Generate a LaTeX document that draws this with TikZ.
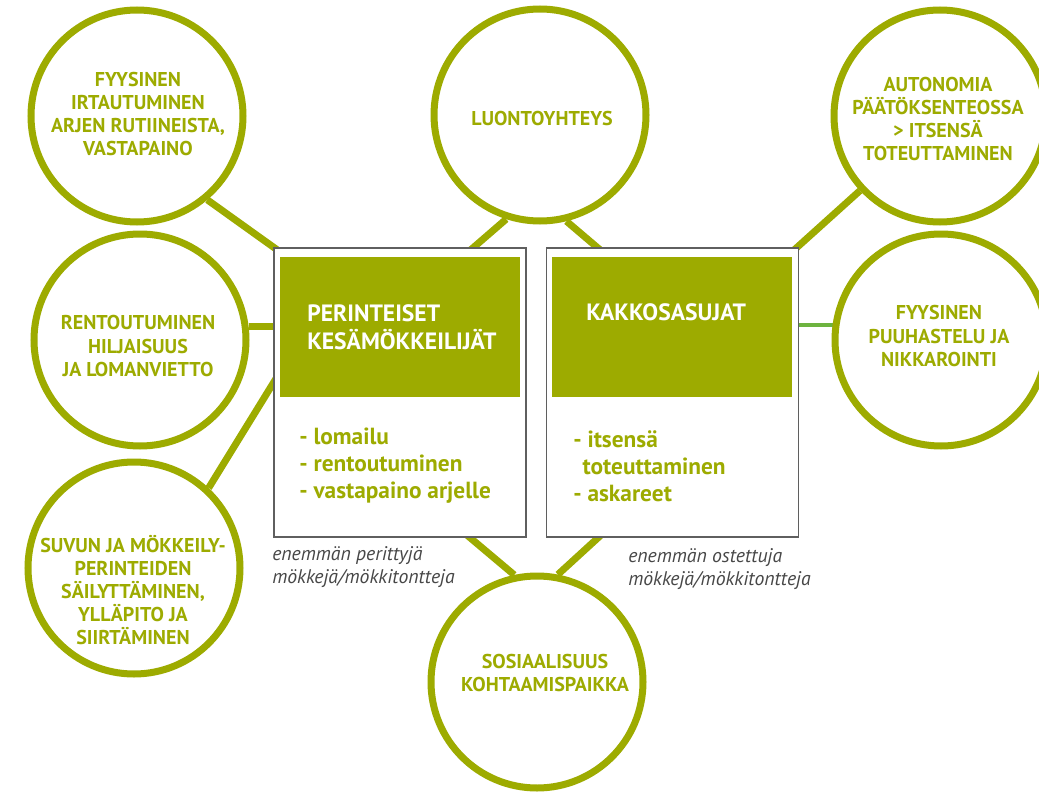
\documentclass[tikz,border=0pt]{standalone}
\usepackage{fontspec}
\setmainfont{PT Sans}
\usepackage{tikz}
\usetikzlibrary{backgrounds}
\definecolor{moss}{HTML}{9DAB00}
\definecolor{leaf}{HTML}{6DB33F}
\definecolor{frame}{HTML}{5F5F5F}
\definecolor{note}{HTML}{474747}

\begin{document}
\begin{tikzpicture}[
  x=0.75pt,y=-0.75pt,
  ring/.style={circle,draw=moss,line width=5.25pt,fill=white,minimum size=159pt,inner sep=0pt},
  ctext/.style={text=moss,align=center,font=\bfseries\fontsize{15}{17.3}\selectfont},
  group/.style={draw=frame,line width=1.1pt,fill=white,minimum width=189pt,minimum height=216.75pt,inner sep=0pt},
  head/.style={fill=moss,minimum width=180pt,minimum height=105pt,inner sep=0pt},
  htext/.style={anchor=west,inner sep=0pt,text=white,align=left,font=\bfseries\fontsize{17.7}{21}\selectfont},
  btext/.style={anchor=west,inner sep=0pt,text=moss,align=left,font=\bfseries\fontsize{17.5}{20.3}\selectfont},
  ntext/.style={anchor=west,inner sep=0pt,text=note,align=left,font=\itshape\fontsize{14.8}{17.3}\selectfont},
  link/.style={draw=moss,line width=5.25pt}
]
\useasboundingbox (0,0) rectangle (1039,792);

% motives around the two groups
\node[ring] (irt)   at (137,116) {};
\node[ring] (rent)  at (140,340) {};
\node[ring] (suku)  at (134,568) {};
\node[ring] (luon)  at (540,115) {};
\node[ring] (auto)  at (940,116) {};
\node[ring] (puuh)  at (941,340) {};
\node[ring] (sos)   at (537,682) {};

\node[ctext] (irtT)  at (138,114) {FYYSINEN\\IRTAUTUMINEN\\ARJEN RUTIINEISTA,\\VASTAPAINO};
\node[ctext] (rentT) at (138,346) {RENTOUTUMINEN\\HILJAISUUS\\JA LOMANVIETTO};
\node[ctext] (sukuT) at (133,590) {SUVUN JA MÖKKEILY-\\PERINTEIDEN\\SÄILYTTÄMINEN,\\YLLÄPITO JA\\SIIRTÄMINEN};
\node[ctext] (luonT) at (542,118) {LUONTOYHTEYS};
\node[ctext] (autoT) at (938,119) {AUTONOMIA\\PÄÄTÖKSENTEOSSA\\> ITSENSÄ\\TOTEUTTAMINEN};
\node[ctext] (puuhT) at (939,336) {FYYSINEN\\PUUHASTELU JA\\NIKKAROINTI};
\node[ctext] (sosT)  at (545,673) {SOSIAALISUUS\\KOHTAAMISPAIKKA};

% the two groups
\node[group] (perin) at (400,392.5) {};
\node[group] (kakko) at (672.5,392.5) {};
\node[head] (perinH) at (400,327) {};
\node[head] (kakkoH) at (671.5,326.5) {};

\node[htext] (perinN) at (307,327) {PERINTEISET\\KESÄMÖKKEILIJÄT};
\node[htext] (kakkoN) at (586,312) {KAKKOSASUJAT};
\node[btext] (perinL) at (299,466) {- lomailu\\- rentoutuminen\\- vastapaino arjelle};
\node[btext] (kakkoL) at (573,466) {- itsensä\\\hspace*{7pt}toteuttaminen\\- askareet};

\node[ntext] (perinM) at (272,567) {enemmän perittyjä\\mökkejä/mökkitontteja};
\node[ntext] (kakkoM) at (628,569) {enemmän ostettuja\\mökkejä/mökkitontteja};

% ends hidden under the boxes
\coordinate (k1) at (290,259);
\coordinate (k3) at (285,364);
\coordinate (k4) at (459,260);
\coordinate (k5) at (612,260);
\coordinate (k6) at (783,260);
\coordinate (k8) at (455,525);
\coordinate (k9) at (612,525);

\begin{scope}[on background layer]
\draw[link] (irt.-50) -- (k1);
\draw[link] (rent.7) -- (rent.7 -| perin.west);
\draw[link] (suku.47) -- (k3);
\draw[link] (luon.-108) -- (k4);
\draw[link] (luon.-76) -- (k5);
\draw[link] (auto.-137) -- (k6);
\draw[draw=leaf,line width=3pt] (puuh.172) -- (puuh.172 -| kakko.east);
\draw[link] (sos.102) -- (k8);
\draw[link] (sos.79) -- (k9);
\end{scope}
\end{tikzpicture}
\end{document}
